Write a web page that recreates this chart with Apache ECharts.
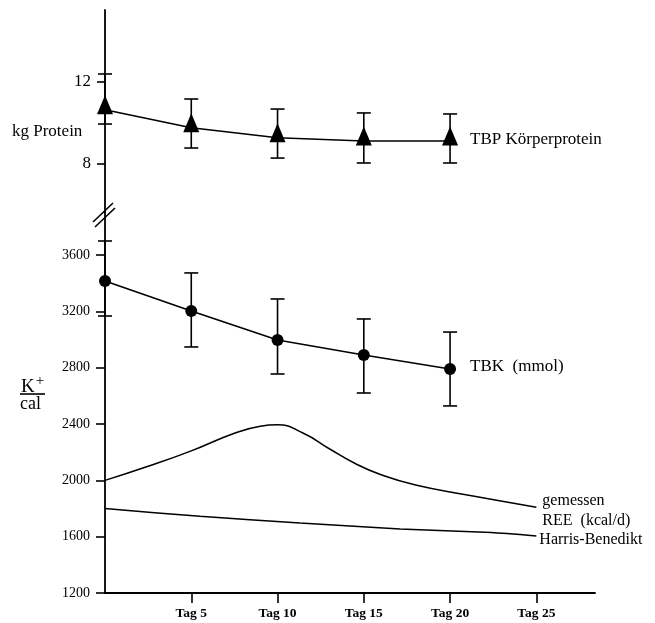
<!DOCTYPE html>
<html>
<head>
<meta charset="utf-8">
<script src="https://cdn.jsdelivr.net/npm/echarts@6/dist/echarts.min.js"></script>
<style>
html,body{margin:0;padding:0;background:#fff;}
#c{width:655px;height:623px;}
</style>
</head>
<body>
<div id="c"></div>
<script>
// ---- data ----
const days = [0, 5, 10, 15, 20];
const tbpMean = [10.65, 9.77, 9.28, 9.12, 9.12];
const tbpHigh = [12.39, 11.17, 10.68, 10.49, 10.44];
const tbpLow  = [9.95, 8.78, 8.29, 8.05, 8.05];

const tbkMean = [3417, 3204, 2998, 2891, 2792];
const tbkHigh = [3701, 3474, 3289, 3147, 3054];
const tbkLow  = [3168, 2948, 2756, 2621, 2529];

const reeDays = [0, 2.5, 5, 7.5, 9, 10, 11.5, 13, 14.5, 16, 18, 21, 25];
const reeMeasured = [2000, 2100, 2210, 2335, 2385, 2395, 2335, 2225, 2120, 2040, 1967, 1896, 1810];

const hbDays = [0, 5.5, 11.3, 17.1, 22.4, 25];
const hbValues = [1800, 1745, 1697, 1655, 1629, 1605];

const xTicks = [5, 10, 15, 20, 25];
const topTicks = [8, 12];
const bottomTicks = [1200, 1600, 2000, 2400, 2800, 3200, 3600];

const FONT = 'Liberation Serif';

function errRender(params, api) {
  const x = api.value(0), lo = api.value(1), hi = api.value(2);
  const p1 = api.coord([x, hi]);
  const p2 = api.coord([x, lo]);
  const w = 7;
  const st = { stroke: '#000', lineWidth: 1.6 };
  return {
    type: 'group',
    children: [
      { type: 'line', shape: { x1: p1[0], y1: p1[1], x2: p2[0], y2: p2[1] }, style: st },
      { type: 'line', shape: { x1: p1[0] - w, y1: p1[1], x2: p1[0] + w, y2: p1[1] }, style: st },
      { type: 'line', shape: { x1: p2[0] - w, y1: p2[1], x2: p2[0] + w, y2: p2[1] }, style: st }
    ]
  };
}

const chart = echarts.init(document.getElementById('c'), null, { renderer: 'canvas' });

const axisLineStyle = { lineStyle: { color: '#000', width: 1.8 } };

const option = {
  backgroundColor: '#fff',
  animation: false,
  textStyle: { fontFamily: FONT, color: '#000' },
  grid: [
    { left: 105, top: 10, width: 490, height: 202 },
    { left: 105, top: 212, width: 490, height: 381 }
  ],
  xAxis: [
    { gridIndex: 0, type: 'value', min: 0, max: 28.4, show: false },
    {
      gridIndex: 1, type: 'value', min: 0, max: 28.4,
      axisLine: axisLineStyle,
      splitLine: { show: false },
      axisTick: { show: true, inside: false, length: 10, customValues: xTicks, lineStyle: { color: '#000', width: 1.6 } },
      axisLabel: { customValues: xTicks, formatter: v => 'Tag ' + v, fontFamily: FONT, fontSize: 13.5, fontWeight: 'bold', color: '#000', margin: 14 }
    }
  ],
  yAxis: [
    {
      gridIndex: 0, type: 'value', min: 5.66, max: 15.51,
      axisLine: { show: true, onZero: false, lineStyle: { color: '#000', width: 1.8 } },
      splitLine: { show: false },
      axisTick: { show: true, length: 8, customValues: topTicks, lineStyle: { color: '#000', width: 1.6 } },
      axisLabel: { customValues: topTicks, formatter: v => String(v), fontFamily: FONT, fontSize: 17, color: '#000', margin: 14 }
    },
    {
      gridIndex: 1, type: 'value', min: 1200, max: 3907,
      axisLine: { show: true, onZero: false, lineStyle: { color: '#000', width: 1.8 } },
      splitLine: { show: false },
      axisTick: { show: true, length: 9, customValues: bottomTicks, lineStyle: { color: '#000', width: 1.6 } },
      axisLabel: { customValues: bottomTicks, formatter: v => String(v), fontFamily: FONT, fontSize: 14, color: '#000', margin: 15 }
    }
  ],
  series: [
    {
      type: 'custom', xAxisIndex: 0, yAxisIndex: 0,
      renderItem: errRender,
      data: days.map((d, i) => [d, tbpLow[i], tbpHigh[i]]),
      encode: { x: 0, y: [1, 2] }, z: 3
    },
    {
      type: 'line', xAxisIndex: 0, yAxisIndex: 0,
      data: days.map((d, i) => [d, tbpMean[i]]),
      symbol: 'triangle', symbolSize: [16, 19], symbolOffset: [0, -5],
      showAllSymbol: true,
      itemStyle: { color: '#000' },
      lineStyle: { color: '#000', width: 1.6 },
      endLabel: { show: true, formatter: 'TBP Körperprotein', distance: 20, fontFamily: FONT, fontSize: 17, color: '#000', offset: [0, -2] },
      z: 4
    },
    {
      type: 'custom', xAxisIndex: 1, yAxisIndex: 1,
      renderItem: errRender,
      data: days.map((d, i) => [d, tbkLow[i], tbkHigh[i]]),
      encode: { x: 0, y: [1, 2] }, z: 3
    },
    {
      type: 'line', xAxisIndex: 1, yAxisIndex: 1,
      data: days.map((d, i) => [d, tbkMean[i]]),
      symbol: 'circle', symbolSize: 12, showAllSymbol: true,
      itemStyle: { color: '#000' },
      lineStyle: { color: '#000', width: 1.6 },
      endLabel: { show: true, formatter: 'TBK  (mmol)', distance: 20, fontFamily: FONT, fontSize: 17, color: '#000', offset: [0, -2] },
      z: 4
    },
    {
      type: 'line', xAxisIndex: 1, yAxisIndex: 1,
      data: reeDays.map((d, i) => [d, reeMeasured[i]]),
      smooth: 0.5, symbol: 'none',
      lineStyle: { color: '#000', width: 1.5 },
      endLabel: { show: true, formatter: 'gemessen\nREE  (kcal/d)', distance: 6, fontFamily: FONT, fontSize: 16, lineHeight: 20, color: '#000', offset: [0, 4] },
      z: 2
    },
    {
      type: 'line', xAxisIndex: 1, yAxisIndex: 1,
      data: hbDays.map((d, i) => [d, hbValues[i]]),
      smooth: 0.2, symbol: 'none',
      lineStyle: { color: '#000', width: 1.5 },
      endLabel: { show: true, formatter: 'Harris-Benedikt', distance: 3, fontFamily: FONT, fontSize: 16, color: '#000', offset: [0, 4] },
      z: 2
    }
  ],
  graphic: [
    { type: 'text', left: 12, top: 123, style: { text: 'kg Protein', font: '17px "Liberation Serif"', fill: '#000' } },
    { type: 'text', left: 21, top: 374, style: {
        text: '{k|K}{s|+}', rich: { k: { font: '19px "Liberation Serif"', fill: '#000', verticalAlign: 'bottom' }, s: { font: '15px "Liberation Serif"', fill: '#000', padding: [0, 0, 8, 1] } } } },
    { type: 'line', shape: { x1: 20, y1: 394, x2: 45, y2: 394 }, style: { stroke: '#000', lineWidth: 1.6 } },
    { type: 'text', left: 20, top: 395, style: { text: 'cal', font: '18px "Liberation Serif"', fill: '#000' } },
    // axis break marks
    { type: 'line', shape: { x1: 93, y1: 222, x2: 113, y2: 203 }, style: { stroke: '#000', lineWidth: 1.6 } },
    { type: 'line', shape: { x1: 95, y1: 227, x2: 115, y2: 208 }, style: { stroke: '#000', lineWidth: 1.6 } }
  ]
};

chart.setOption(option);
</script>
</body>
</html>
